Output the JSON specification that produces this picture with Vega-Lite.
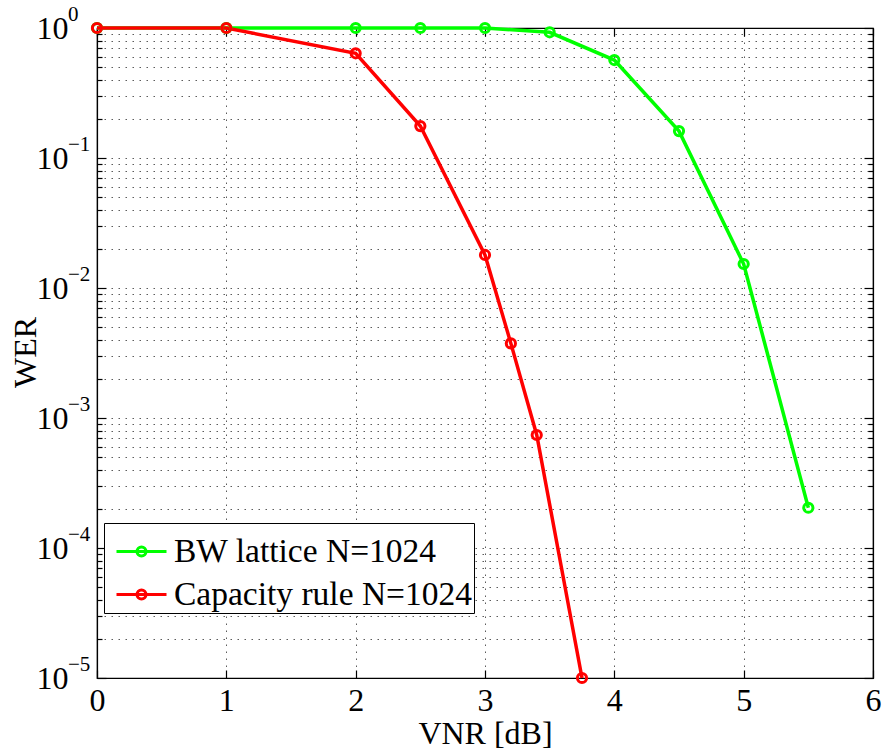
{
  "$schema": "https://vega.github.io/schema/vega-lite/v6.json",
  "width": 776,
  "height": 650,
  "autosize": {"type": "none"},
  "padding": {"left": 97, "top": 28, "right": 9, "bottom": 71},
  "background": "white",
  "config": {
    "font": "Liberation Serif",
    "view": {"stroke": "black", "strokeWidth": 1.2},
    "axis": {
      "labelFont": "Liberation Serif",
      "titleFont": "Liberation Serif",
      "labelFontSize": 32,
      "titleFontSize": 32,
      "titleFontWeight": "normal",
      "labelColor": "black",
      "titleColor": "black",
      "domainColor": "black",
      "domainWidth": 1.2,
      "tickColor": "black",
      "tickWidth": 1.2,
      "gridColor": "#333333",
      "gridDash": [1.5, 5.5],
      "gridWidth": 1,
      "gridOpacity": 0.8
    },
    "legend": {
      "labelFont": "Liberation Serif",
      "labelFontSize": 33.5,
      "labelColor": "black"
    }
  },
  "datasets": {
    "wer": [
      {"series": "BW lattice N=1024", "vnr": 0, "wer": 1},
      {"series": "BW lattice N=1024", "vnr": 1, "wer": 1},
      {"series": "BW lattice N=1024", "vnr": 2, "wer": 1},
      {"series": "BW lattice N=1024", "vnr": 2.5, "wer": 1},
      {"series": "BW lattice N=1024", "vnr": 3, "wer": 1},
      {"series": "BW lattice N=1024", "vnr": 3.5, "wer": 0.927},
      {"series": "BW lattice N=1024", "vnr": 4, "wer": 0.567},
      {"series": "BW lattice N=1024", "vnr": 4.5, "wer": 0.161},
      {"series": "BW lattice N=1024", "vnr": 5, "wer": 0.0153},
      {"series": "BW lattice N=1024", "vnr": 5.5, "wer": 0.000204},
      {"series": "Capacity rule N=1024", "vnr": 0, "wer": 1},
      {"series": "Capacity rule N=1024", "vnr": 1, "wer": 1},
      {"series": "Capacity rule N=1024", "vnr": 2, "wer": 0.639},
      {"series": "Capacity rule N=1024", "vnr": 2.5, "wer": 0.176},
      {"series": "Capacity rule N=1024", "vnr": 3, "wer": 0.01795},
      {"series": "Capacity rule N=1024", "vnr": 3.2, "wer": 0.00375},
      {"series": "Capacity rule N=1024", "vnr": 3.4, "wer": 0.00074},
      {"series": "Capacity rule N=1024", "vnr": 3.75, "wer": 0.00001}
    ],
    "decades": [
      {"decade": 1, "exponent": "0"},
      {"decade": 0.1, "exponent": "−1"},
      {"decade": 0.01, "exponent": "−2"},
      {"decade": 0.001, "exponent": "−3"},
      {"decade": 0.0001, "exponent": "−4"},
      {"decade": 0.00001, "exponent": "−5"}
    ]
  },
  "resolve": {"axis": {"x": "independent", "y": "independent"}},
  "layer": [
    {
      "data": {"name": "wer"},
      "mark": {"type": "line", "strokeWidth": 3.5, "clip": false},
      "encoding": {
        "x": {
          "field": "vnr",
          "type": "quantitative",
          "scale": {"domain": [0, 6], "nice": false, "zero": false},
          "axis": {
            "orient": "bottom",
            "title": "VNR [dB]",
            "values": [0, 1, 2, 3, 4, 5, 6],
            "format": "d",
            "grid": true,
            "tickSize": -8,
            "labelPadding": 15,
            "labelBaseline": "top",
            "labelFlush": false,
            "titleBaseline": "alphabetic",
            "titleY": 65
          }
        },
        "y": {
          "field": "wer",
          "type": "quantitative",
          "scale": {"type": "log", "domain": [0.00001, 1], "nice": false},
          "axis": {
            "orient": "left",
            "title": "WER",
            "values": [0.00001, 0.00002, 0.00003, 0.00004, 0.00005, 0.00006, 0.00007, 0.00008, 0.00009,
                       0.0001, 0.0002, 0.0003, 0.0004, 0.0005, 0.0006, 0.0007, 0.0008, 0.0009,
                       0.001, 0.002, 0.003, 0.004, 0.005, 0.006, 0.007, 0.008, 0.009,
                       0.01, 0.02, 0.03, 0.04, 0.05, 0.06, 0.07, 0.08, 0.09,
                       0.1, 0.2, 0.3, 0.4, 0.5, 0.6, 0.7, 0.8, 0.9, 1],
            "labelExpr": "abs(log(datum.value)/LN10 - round(log(datum.value)/LN10)) < 0.000001 ? '10' : ''",
            "grid": true,
            "tickSize": {"condition": {"test": "abs(log(datum.value)/LN10 - round(log(datum.value)/LN10)) < 0.000001", "value": -9}, "value": -5},
            "labelAlign": "left",
            "labelBaseline": "middle",
            "labelPadding": 70,
            "labelFlush": false,
            "labelOverlap": false,
            "titleAngle": -90,
            "titleBaseline": "alphabetic",
            "titleX": -62,
            "titleY": 324
          }
        },
        "color": {
          "field": "series",
          "type": "nominal",
          "scale": {"domain": ["BW lattice N=1024", "Capacity rule N=1024"], "range": ["#00ff00", "#ff0000"]},
          "legend": {
            "title": null,
            "orient": "none",
            "legendX": 7,
            "legendY": 495,
            "fillColor": "white",
            "strokeColor": "black",
            "padding": 2,
            "symbolOffset": 9,
            "symbolType": "M-1,0L1,0M-0.18,0A0.18,0.18,0,1,1,0.18,0A0.18,0.18,0,1,1,-0.18,0",
            "symbolSize": 2500,
            "symbolStrokeWidth": 3,
            "symbolFillColor": "transparent",
            "labelOffset": 6,
            "rowPadding": -4,
            "labelLimit": 500
          }
        }
      }
    },
    {
      "data": {"name": "wer"},
      "mark": {"type": "point", "shape": "circle", "filled": false, "size": 85, "strokeWidth": 3, "opacity": 1, "clip": false},
      "encoding": {
        "x": {
          "field": "vnr",
          "type": "quantitative",
          "axis": {
            "orient": "top",
            "title": null,
            "values": [0, 1, 2, 3, 4, 5, 6],
            "labels": false,
            "grid": false,
            "tickSize": -8
          }
        },
        "y": {
          "field": "wer",
          "type": "quantitative",
          "axis": {
            "orient": "right",
            "title": null,
            "values": [0.00001, 0.00002, 0.00003, 0.00004, 0.00005, 0.00006, 0.00007, 0.00008, 0.00009,
                       0.0001, 0.0002, 0.0003, 0.0004, 0.0005, 0.0006, 0.0007, 0.0008, 0.0009,
                       0.001, 0.002, 0.003, 0.004, 0.005, 0.006, 0.007, 0.008, 0.009,
                       0.01, 0.02, 0.03, 0.04, 0.05, 0.06, 0.07, 0.08, 0.09,
                       0.1, 0.2, 0.3, 0.4, 0.5, 0.6, 0.7, 0.8, 0.9, 1],
            "labels": false,
            "grid": false,
            "tickSize": {"condition": {"test": "abs(log(datum.value)/LN10 - round(log(datum.value)/LN10)) < 0.000001", "value": -9}, "value": -5}
          }
        },
        "color": {"field": "series", "type": "nominal", "legend": null}
      }
    },
    {
      "data": {"name": "decades"},
      "mark": {"type": "text", "font": "Liberation Serif", "fontSize": 21, "align": "left", "baseline": "middle", "dx": -29, "dy": -13, "color": "black", "clip": false},
      "encoding": {
        "x": {"datum": 0, "type": "quantitative", "axis": null},
        "y": {"field": "decade", "type": "quantitative", "axis": null},
        "text": {"field": "exponent"}
      }
    }
  ]
}
